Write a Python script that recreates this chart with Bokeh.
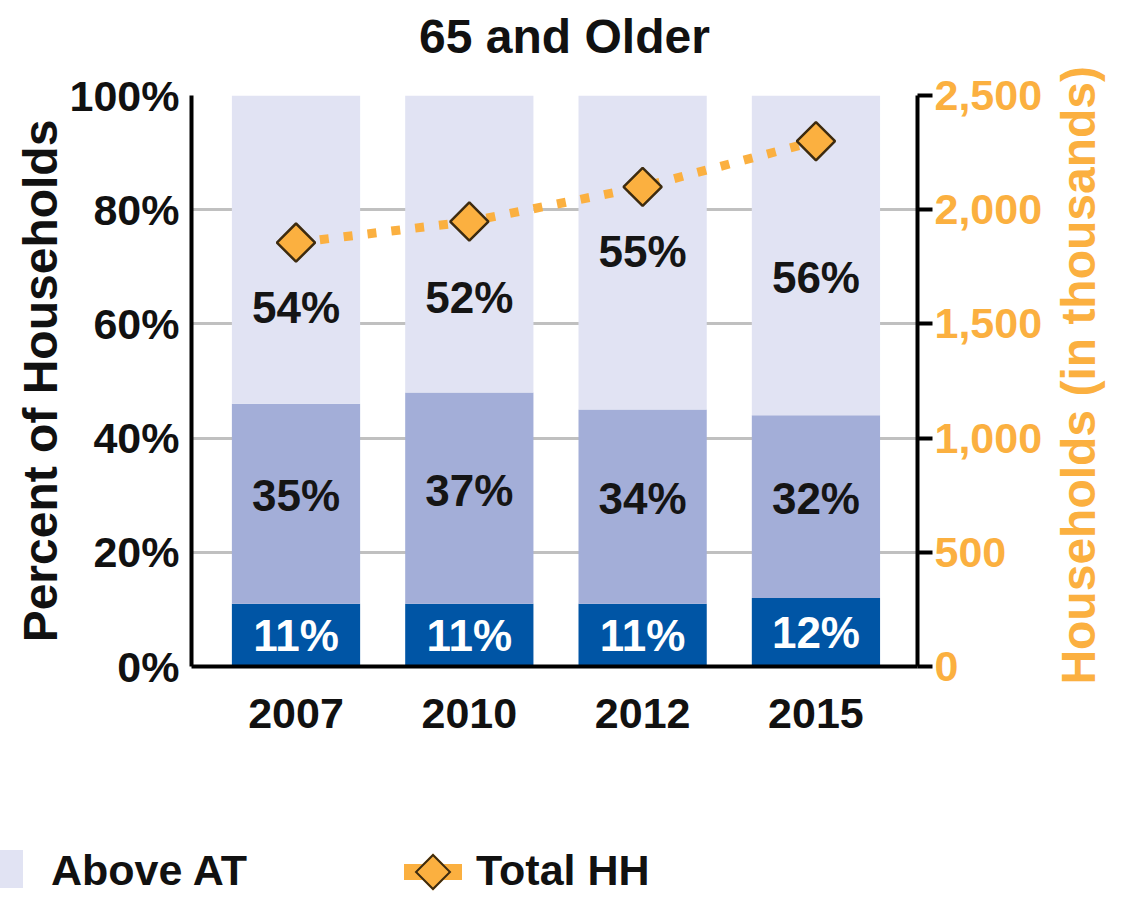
import math
from bokeh.plotting import figure
from bokeh.layouts import column
from bokeh.models import (Range1d, LinearAxis, FixedTicker, PrintfTickFormatter,
                          NumeralTickFormatter, ColumnDataSource, Label, Div)
from bokeh.core.properties import value
from bokeh.embed import file_html
from bokeh.resources import INLINE

# ---------------- data ----------------
years = ["2007", "2010", "2012", "2015"]
below_at_pct = [11, 11, 11, 12]      # dark blue segment
near_at_pct = [35, 37, 34, 32]       # mid blue segment
above_at_pct = [54, 52, 55, 56]      # light segment ("Above AT")
total_hh = [1856, 1948, 2100, 2300]  # households, thousands (right axis)
pct_ticks = [0, 20, 40, 60, 80, 100]
hh_ticks = [0, 500, 1000, 1500, 2000, 2500]
legend_labels = ["Above AT", "Total HH"]
chart_title = "65 and Older"

# layout only: vertical placement of the "Above AT" value labels (percent units)
above_label_y = [62.9, 64.7, 72.7, 68.1]

FONT = "Liberation Sans"
DARK = "#0055A5"
MID = "#A3AED8"
LIGHT = "#E1E3F3"
ORANGE = "#FBB040"
OUTLINE = "#3D2B0F"

xs = list(range(1, len(years) + 1))
mid_bottom = below_at_pct
mid_top = [a + b for a, b in zip(below_at_pct, near_at_pct)]
top_top = [a + b for a, b in zip(mid_top, above_at_pct)]

W, H1, H2 = 1106, 773, 110
p = figure(width=W, height=H1,
           x_range=Range1d(0.397, 4.586), y_range=Range1d(0, 100),
           output_backend="svg", toolbar_location=None,
           min_border_left=191, min_border_right=189,
           min_border_top=95, min_border_bottom=H1 - 95 - 571,
           outline_line_color=None)
p.extra_y_ranges = {"hh": Range1d(0, 2500)}
p.title.visible = False

# grid
p.xgrid.visible = False
p.ygrid.ticker = FixedTicker(ticks=pct_ticks)
p.ygrid.grid_line_color = "#C0C0C0"
p.ygrid.grid_line_width = 3

# x axis
xa = p.xaxis[0]
xa.ticker = FixedTicker(ticks=xs)
xa.major_label_overrides = {x: y for x, y in zip(xs, years)}
xa.axis_line_width = 4
xa.axis_line_color = "black"
xa.major_tick_line_color = None
xa.minor_tick_line_color = None
xa.major_label_standoff = 26
xa.major_label_text_font = FONT
xa.major_label_text_font_size = "43px"
xa.major_label_text_font_style = "bold"
xa.major_label_text_color = "#111111"

# left axis
ya = p.yaxis[0]
ya.ticker = FixedTicker(ticks=pct_ticks)
ya.formatter = PrintfTickFormatter(format="%d%%")
ya.axis_line_width = 4
ya.axis_line_color = "black"
ya.major_tick_line_color = None
ya.minor_tick_line_color = None
ya.major_label_standoff = 6
ya.major_label_text_font = FONT
ya.major_label_text_font_size = "43px"
ya.major_label_text_font_style = "bold"
ya.major_label_text_color = "#111111"
ya.axis_label = "Percent of Households"
ya.axis_label_standoff = 0
ya.axis_label_text_font = FONT
ya.axis_label_text_font_size = "48px"
ya.axis_label_text_font_style = "bold"
ya.axis_label_text_color = "#111111"

# right axis
ra = LinearAxis(y_range_name="hh", ticker=FixedTicker(ticks=hh_ticks),
                formatter=NumeralTickFormatter(format="0,0"))
ra.axis_line_width = 4
ra.axis_line_color = "black"
ra.major_tick_line_color = "black"
ra.major_tick_line_width = 4
ra.major_tick_out = 15
ra.major_tick_in = 0
ra.minor_tick_line_color = None
ra.major_label_standoff = 2
ra.major_label_text_font = FONT
ra.major_label_text_font_size = "43px"
ra.major_label_text_font_style = "bold"
ra.major_label_text_color = ORANGE
p.add_layout(ra, "right")

# right axis title, reading bottom-to-top
hh_title = Label(x=5.515, y=51, x_units="data", y_units="data",
                 text="Households (in thousands)", angle=math.pi / 2,
                 text_align="center", text_baseline="middle",
                 text_font=FONT, text_font_size="48px", text_font_style="bold",
                 text_color=ORANGE)
p.add_layout(hh_title, "right")

# chart title
title_lab = Label(x=2.549, y=110.4, x_units="data", y_units="data",
                  text=chart_title, text_align="center", text_baseline="alphabetic",
                  text_font=FONT, text_font_size="48px", text_font_style="bold",
                  text_color="#111111")
p.add_layout(title_lab, "above")

# bars
bw = 0.74
p.vbar(x=xs, width=bw, bottom=0, top=below_at_pct, fill_color=DARK, line_color=None)
p.vbar(x=xs, width=bw, bottom=mid_bottom, top=mid_top, fill_color=MID, line_color=None)
p.vbar(x=xs, width=bw, bottom=mid_top, top=top_top, fill_color=LIGHT, line_color=None)

# value labels
lab_font = value(FONT)
src_below = ColumnDataSource(dict(x=xs, y=[v / 2 for v in below_at_pct],
                                  t=[f"{v}%" for v in below_at_pct]))
src_mid = ColumnDataSource(dict(x=xs, y=[b + m / 2 + 1.4 for b, m in zip(mid_bottom, near_at_pct)],
                                t=[f"{v}%" for v in near_at_pct]))
src_above = ColumnDataSource(dict(x=xs, y=above_label_y,
                                  t=[f"{v}%" for v in above_at_pct]))
for src, col in ((src_below, "white"), (src_mid, "#151515"), (src_above, "#151515")):
    p.text(x="x", y="y", text="t", source=src, text_align="center",
           text_baseline="middle", text_font=lab_font, text_font_size="44px",
           text_font_style="bold", text_color=col)

# total households line
p.line(x=xs, y=total_hh, y_range_name="hh", line_color=ORANGE,
       line_width=9, line_dash="9 15")
p.scatter(x=xs, y=total_hh, y_range_name="hh", marker="square",
          angle=math.pi / 4, size=27, fill_color=ORANGE,
          line_color=OUTLINE, line_width=2.5)

# ---------------- legend strip (HTML) ----------------
txt = (f"position:absolute;top:71px;font-family:'{FONT}',Arial,sans-serif;"
       "font-size:43px;font-weight:bold;line-height:43px;color:#111111;white-space:nowrap;")
legend_html = (
    f'<div style="position:relative;width:{W}px;height:{H2}px;">'
    f'<span style="position:absolute;left:-6px;top:72px;width:24px;height:38px;background:{LIGHT};"></span>'
    f'<span style="{txt}left:46px;">{legend_labels[0]}</span>'
    f'<span style="position:absolute;left:399px;top:86px;width:58px;height:16px;background:{ORANGE};"></span>'
    f'<span style="position:absolute;left:415px;top:81px;width:26px;height:26px;box-sizing:border-box;'
    f'background:{ORANGE};border:2.5px solid {OUTLINE};transform:rotate(45deg);"></span>'
    f'<span style="{txt}left:471px;">{legend_labels[1]}</span>'
    '</div>'
)
legend_div = Div(text=legend_html, width=W, height=H2)

layout = column(p, legend_div, spacing=0)
open("out.html", "w").write(file_html(layout, INLINE))
